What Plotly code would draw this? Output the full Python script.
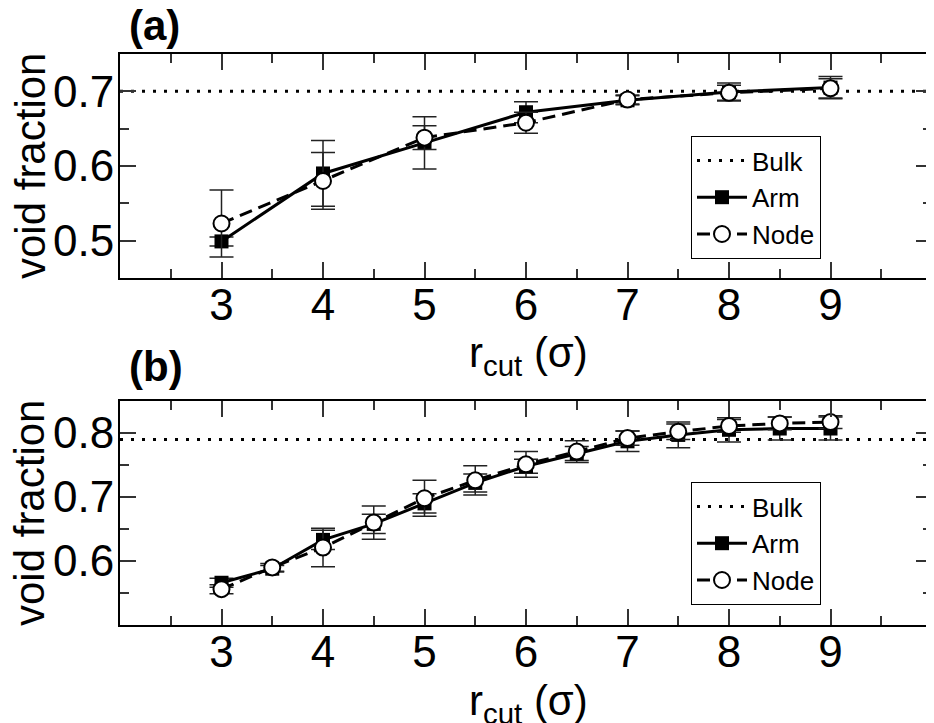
import plotly.graph_objects as go

# ---------------- data ----------------
x_a = [3, 4, 5, 6, 7, 8, 9]
arm_a = [0.499, 0.590, 0.631, 0.672, 0.688, 0.699, 0.705]
arm_a_err = [0.006, 0.044, 0.035, 0.014, 0.006, 0.012, 0.015]
node_a = [0.523, 0.580, 0.638, 0.658, 0.689, 0.698, 0.704]
node_a_err = [0.045, 0.038, 0.016, 0.014, 0.006, 0.010, 0.013]
bulk_a = 0.700

x_b = [3, 3.5, 4, 4.5, 5, 5.5, 6, 6.5, 7, 7.5, 8, 8.5, 9]
arm_b = [0.566, 0.588, 0.633, 0.658, 0.690, 0.722, 0.748, 0.768, 0.787, 0.797, 0.805, 0.807, 0.807]
arm_b_err = [0.007, 0.005, 0.015, 0.015, 0.015, 0.014, 0.011, 0.011, 0.016, 0.020, 0.019, 0.018, 0.018]
node_b = [0.556, 0.590, 0.621, 0.660, 0.698, 0.726, 0.751, 0.771, 0.792, 0.802, 0.811, 0.815, 0.817]
node_b_err = [0.007, 0.006, 0.030, 0.026, 0.028, 0.023, 0.020, 0.017, 0.011, 0.012, 0.010, 0.010, 0.010]
bulk_b = 0.790

x_range = [2, 10]
x_ticks = [3, 4, 5, 6, 7, 8, 9]
x_minor = [2.5, 3.5, 4.5, 5.5, 6.5, 7.5, 8.5, 9.5]
ya_range = [0.45, 0.75]
ya_ticks = [0.5, 0.6, 0.7]
ya_minor = [0.55, 0.65]
yb_range = [0.50, 0.85]
yb_ticks = [0.6, 0.7, 0.8]
yb_minor = [0.55, 0.65, 0.75]

x_title = "r<sub>cut</sub> (σ)"
y_title = "void fraction"

FONT = "Liberation Sans, Arial, sans-serif"
# the page body has an 8px default margin: work in page pixels and convert
OFF = 8
W, H = 934 - OFF, 723 - OFF

def fx(p):   # page x -> figure pixel
    return p - OFF

def py(p):   # page y -> paper fraction
    return (H - (p - OFF)) / H

L, R = 120, 932          # plot area, page pixels
def pxp(p):  # page x -> paper fraction (plot-area based)
    return (p - L) / (R - L)

fig = go.Figure()

def add_panel(xs, arm, arm_err, node, node_err, bulk, xa, ya, leg):
    fig.add_trace(go.Scatter(
        x=x_range, y=[bulk, bulk], mode="lines", name="Bulk",
        line=dict(color="black", width=3, dash="3px,8px"),
        xaxis=xa, yaxis=ya, legend=leg))
    fig.add_trace(go.Scatter(
        x=xs, y=arm, mode="lines+markers", name="Arm",
        line=dict(color="black", width=3),
        marker=dict(symbol="square", size=14, color="black"),
        error_y=dict(type="data", array=arm_err, color="#222", thickness=1.5, width=12),
        xaxis=xa, yaxis=ya, legend=leg))
    fig.add_trace(go.Scatter(
        x=xs, y=node, mode="lines+markers", name="Node",
        line=dict(color="black", width=3, dash="13px,7px"),
        marker=dict(symbol="circle", size=16, color="white",
                    line=dict(color="black", width=2)),
        error_y=dict(type="data", array=node_err, color="#222", thickness=1.5, width=12),
        xaxis=xa, yaxis=ya, legend=leg))

add_panel(x_a, arm_a, arm_a_err, node_a, node_a_err, bulk_a, "x", "y", "legend")
add_panel(x_b, arm_b, arm_b_err, node_b, node_b_err, bulk_b, "x2", "y2", "legend2")

TICKFONT = dict(size=44, family=FONT, color="black")
common_x = dict(range=x_range, tickvals=x_ticks, ticks="inside", ticklen=16, tickwidth=1.5,
                tickcolor="#333", showline=True, linecolor="black", linewidth=2, mirror="ticks",
                showgrid=False, zeroline=False,
                minor=dict(tickvals=x_minor, ticks="inside", ticklen=9, tickwidth=1.5, tickcolor="#333"),
                tickfont=TICKFONT, ticklabelstandoff=-13, automargin=False)
common_y = dict(ticks="inside", ticklen=16, tickwidth=1.5, tickcolor="#333",
                showline=True, linecolor="black", linewidth=2, mirror="ticks",
                showgrid=False, zeroline=False,
                tickfont=TICKFONT, ticklabelstandoff=-5, automargin=False)

legend_common = dict(xanchor="left", yanchor="top", bgcolor="white",
                     bordercolor="black", borderwidth=1,
                     font=dict(size=26, family=FONT, color="black"),
                     itemwidth=50, tracegroupgap=0)

ann_font = dict(size=42, family=FONT, color="black")
annotations = [
    dict(text="<b>(a)</b>", x=pxp(127), y=py(26), xanchor="left", yanchor="middle"),
    dict(text="<b>(b)</b>", x=pxp(127), y=py(366), xanchor="left", yanchor="middle"),
    dict(text=x_title, x=pxp(528), y=py(355), xanchor="center", yanchor="middle"),
    dict(text=x_title, x=pxp(528), y=py(703), xanchor="center", yanchor="middle"),
    dict(text=y_title, x=pxp(30), y=py(166), xanchor="center", yanchor="middle", textangle=-90),
    dict(text=y_title, x=pxp(30), y=py(513), xanchor="center", yanchor="middle", textangle=-90),
]
for a in annotations:
    a.update(xref="paper", yref="paper", showarrow=False, font=ann_font)

fig.update_layout(
    width=W, height=H,
    margin=dict(l=fx(L), r=W - fx(R), t=0, b=0),
    paper_bgcolor="white", plot_bgcolor="white",
    font=dict(family=FONT, color="black"),
    showlegend=True,
    xaxis=dict(domain=[0, 1], anchor="y", **common_x),
    yaxis=dict(domain=[py(278), py(54)], anchor="x", range=ya_range, tickvals=ya_ticks,
               minor=dict(tickvals=ya_minor, ticks="inside", ticklen=9, tickwidth=1.5, tickcolor="#333"),
               **common_y),
    xaxis2=dict(domain=[0, 1], anchor="y2", **common_x),
    yaxis2=dict(domain=[py(625), py(401)], anchor="x2", range=yb_range, tickvals=yb_ticks,
                minor=dict(tickvals=yb_minor, ticks="inside", ticklen=9, tickwidth=1.5, tickcolor="#333"),
                **common_y),
    legend=dict(x=pxp(691), y=py(136), **legend_common),
    legend2=dict(x=pxp(691), y=py(482), **legend_common),
    annotations=annotations,
)

fig.write_html("out.html")
